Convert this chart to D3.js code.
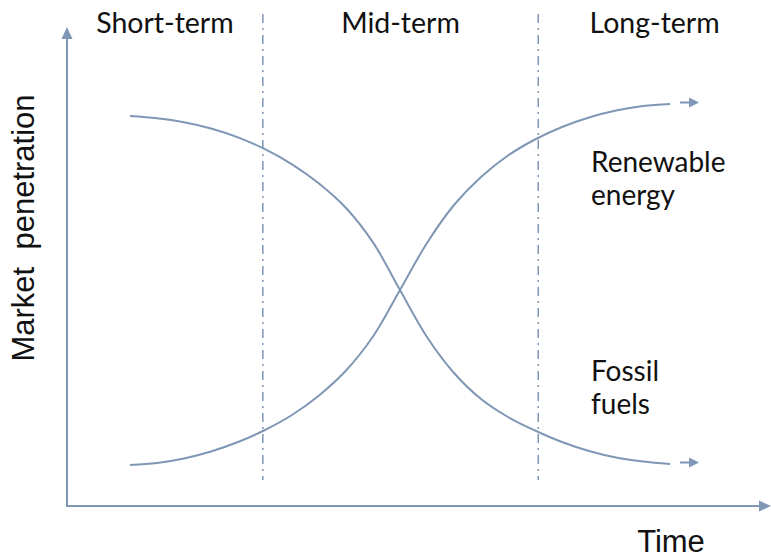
<!DOCTYPE html>
<html>
<head>
<meta charset="utf-8">
<script src="https://cdn.jsdelivr.net/npm/d3@7/dist/d3.min.js"></script>
<style>
  html, body { margin: 0; padding: 0; background: #fff; }
  svg { display: block; }
</style>
</head>
<body>
<script>
// ---- data ----
const phases = ["Short-term", "Mid-term", "Long-term"];
const phaseBounds = [24.6, 75.6]; // time units where phases change
const times = [0, 5, 10, 15, 20, 25, 30, 35, 40, 45, 50, 55, 60, 65, 70, 75, 80, 85, 90, 95, 100];
const fossil = [96.41, 95.80, 94.70, 92.98, 90.52, 87.24, 83.07, 77.76, 71.0, 61.49, 48.34,
                35.36, 25.41, 18.23, 13.26, 9.53, 6.35, 3.87, 2.07, 0.97, 0.28];
const renewable = [0, 0.55, 1.80, 3.73, 6.35, 9.67, 13.81, 19.20, 26.10, 35.50, 48.34,
                   61.33, 71.82, 79.56, 85.50, 89.92, 93.37, 96.00, 97.93, 99.17, 99.72];
const seriesLabels = [["Renewable", "energy"], ["Fossil", "fuels"]];
const axisTitles = { x: "Time", y: "Market  penetration" };

// ---- layout ----
const W = 771, H = 559;
const lineColor = "#7f97b4";
const svg = d3.select("body").append("svg").attr("width", W).attr("height", H);

const x = d3.scaleLinear().domain([0, 100]).range([130, 670]);
const y = d3.scaleLinear().domain([0, 100]).range([465, 103]);

const axisX0 = 67, axisY0 = 506, axisTopY = 27, axisRightX = 771;

// axes (arrows)
svg.append("line").attr("x1", axisX0).attr("y1", axisY0).attr("x2", axisX0).attr("y2", axisTopY + 10)
  .attr("stroke", lineColor).attr("stroke-width", 2);
svg.append("path").attr("d", `M${axisX0},${axisTopY} L${axisX0 - 5.5},${axisTopY + 12} L${axisX0 + 5.5},${axisTopY + 12} Z`)
  .attr("fill", lineColor);
svg.append("line").attr("x1", axisX0 - 1).attr("y1", axisY0).attr("x2", axisRightX - 10).attr("y2", axisY0)
  .attr("stroke", lineColor).attr("stroke-width", 2);
svg.append("path").attr("d", `M${axisRightX},${axisY0} L${axisRightX - 12},${axisY0 - 5.5} L${axisRightX - 12},${axisY0 + 5.5} Z`)
  .attr("fill", lineColor);

// phase boundaries
phaseBounds.forEach(b => {
  svg.append("line").attr("x1", x(b)).attr("x2", x(b)).attr("y1", 14).attr("y2", 480)
    .attr("stroke", lineColor).attr("stroke-width", 1.5)
    .attr("stroke-dasharray", "9,5,2,5");
});

// phase labels
const edges = [axisX0, x(phaseBounds[0]), x(phaseBounds[1]), axisRightX];
phases.forEach((p, i) => {
  svg.append("text").attr("x", (edges[i] + edges[i + 1]) / 2).attr("y", 33)
    .attr("text-anchor", "middle").attr("font-family", "Lato, 'Open Sans', sans-serif")
    .attr("font-size", 28.5).attr("fill", "#111").text(p);
});

// curves
const line = d3.line().x(d => x(d[0])).y(d => y(d[1])).curve(d3.curveCatmullRom.alpha(0.5));
const fossilPts = times.map((t, i) => [t, fossil[i]]);
const renewPts = times.map((t, i) => [t, renewable[i]]);
[renewPts, fossilPts].forEach(pts => {
  svg.append("path").attr("d", line(pts)).attr("fill", "none")
    .attr("stroke", lineColor).attr("stroke-width", 2);
  const last = pts[pts.length - 1];
  const yy = y(last[1]) - 1.5;
  const xs = x(last[0]) + 10;
  svg.append("line").attr("x1", xs).attr("x2", xs + 12).attr("y1", yy).attr("y2", yy)
    .attr("stroke", lineColor).attr("stroke-width", 2);
  svg.append("path").attr("d", `M${xs + 19},${yy} L${xs + 9},${yy - 5} L${xs + 9},${yy + 5} Z`)
    .attr("fill", lineColor);
});

// series labels
const labelPos = [[591, 172], [591, 381]];
seriesLabels.forEach((lines, i) => {
  const t = svg.append("text").attr("x", labelPos[i][0]).attr("y", labelPos[i][1])
    .attr("font-family", "Lato, 'Open Sans', sans-serif").attr("font-size", 28).attr("fill", "#111");
  lines.forEach((l, j) => t.append("tspan").attr("x", labelPos[i][0]).attr("dy", j === 0 ? 0 : 33).text(l));
});

// axis titles
svg.append("text").attr("x", 671).attr("y", 552).attr("text-anchor", "middle")
  .attr("font-family", "'Liberation Sans', Arial, sans-serif").attr("font-size", 31).attr("fill", "#111")
  .text(axisTitles.x);
svg.append("text").attr("transform", "translate(34,228) rotate(-90)").attr("text-anchor", "middle")
  .attr("font-family", "'Liberation Sans', Arial, sans-serif").attr("font-size", 31).attr("fill", "#111")
  .attr("xml:space", "preserve").style("white-space", "pre")
  .text(axisTitles.y);
</script>
</body>
</html>
